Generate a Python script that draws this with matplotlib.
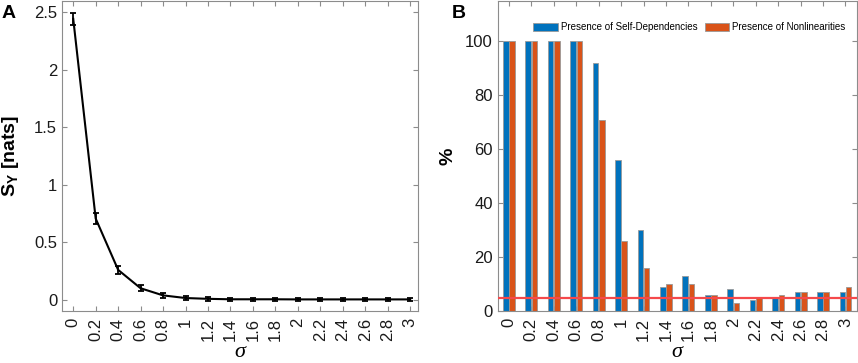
import matplotlib
matplotlib.use("Agg")
import matplotlib.pyplot as plt
import numpy as np
from matplotlib.ticker import FuncFormatter

plt.rcParams['font.family'] = ['Liberation Sans', 'DejaVu Sans']
plt.rcParams['mathtext.fontset'] = 'custom'
plt.rcParams['mathtext.rm'] = 'Liberation Sans'
plt.rcParams['mathtext.bf'] = 'Liberation Sans:bold'
plt.rcParams['mathtext.it'] = 'Liberation Serif:italic'

# ---- data ----
sigma = [0.0, 0.2, 0.4, 0.6, 0.8, 1.0, 1.2, 1.4, 1.6, 1.8, 2.0, 2.2, 2.4, 2.6, 2.8, 3.0]
sigma_labels = ['0', '0.2', '0.4', '0.6', '0.8', '1', '1.2', '1.4', '1.6', '1.8', '2',
                '2.2', '2.4', '2.6', '2.8', '3']
entropy = [2.445, 0.705, 0.258, 0.098, 0.036, 0.013, 0.006, 0.002, 0.002, 0.002,
           0.001, 0.001, 0.001, 0.001, 0.001, 0.001]
entropy_err = [0.05, 0.045, 0.035, 0.028, 0.022, 0.018, 0.016, 0.015, 0.015, 0.015,
               0.014, 0.014, 0.014, 0.014, 0.014, 0.015]
self_dep = [100, 100, 100, 100, 92, 56, 30, 9, 13, 6, 8, 4, 5, 7, 7, 7]
nonlin = [100, 100, 100, 100, 71, 26, 16, 10, 10, 6, 3, 5, 6, 7, 7, 9]
threshold = 5
legend_labels = ['Presence of Self-Dependencies', 'Presence of Nonlinearities']

blue = '#0072BD'
orange = '#D95319'
spine_col = '0.55'

fig = plt.figure(figsize=(8.58, 3.63), dpi=100)
axA = fig.add_axes([62/858, 52/363, 356/858, 310/363])
axB = fig.add_axes([497.7/858, 52/363, 359/858, 310/363])

def style(ax):
    for s in ax.spines.values():
        s.set_color(spine_col)
        s.set_linewidth(0.8)
    ax.tick_params(direction='in', length=3.5, width=0.8, color=spine_col,
                   top=True, right=True, labelsize=12, labelcolor='#1a1a1a')
    ax.tick_params(axis='x', labelrotation=90, pad=5)

def sigma_label(ax):
    ax.set_xlabel('σ', fontsize=16, family='Liberation Serif', style='italic')
    ax.xaxis.label.set_va('bottom')
    ax.xaxis.set_label_coords(0.5, -0.163)

# ---- panel A ----
axA.errorbar(sigma, entropy, yerr=entropy_err, color='black', lw=1.5,
             elinewidth=1.3, capsize=2.5, capthick=1.3)
axA.set_xlim(-0.1, 3.07)
axA.set_ylim(-0.1, 2.6)
axA.set_xticks(sigma)
axA.set_xticklabels(sigma_labels)
axA.set_yticks([0, 0.5, 1, 1.5, 2, 2.5])
axA.yaxis.set_major_formatter(FuncFormatter(lambda v, p: '%g' % v))
style(axA)
axA.set_ylabel(r'$\mathbf{S_Y}$ [nats]', fontsize=14, fontweight='bold')
axA.yaxis.set_label_coords(-0.115, 0.5)
sigma_label(axA)

# ---- panel B ----
x = np.array(sigma)
w = 0.05
off = 0.028
axB.bar(x - off, self_dep, width=w, color=blue, edgecolor='0.6', linewidth=0.6,
        label=legend_labels[0], zorder=2)
axB.bar(x + off, nonlin, width=w, color=orange, edgecolor='0.6', linewidth=0.6,
        label=legend_labels[1], zorder=2)
axB.axhline(threshold, color='#F5494B', lw=1.6, zorder=3)
axB.set_xlim(-0.1, 3.1)
axB.set_ylim(0, 115)
axB.set_xticks(sigma)
axB.set_xticklabels(sigma_labels)
axB.set_yticks([0, 20, 40, 60, 80, 100])
style(axB)
axB.set_ylabel('%', fontsize=14, fontweight='bold')
axB.yaxis.set_label_coords(-0.115, 0.5)
sigma_label(axB)
axB.legend(loc='upper right', ncol=2, frameon=False, fontsize=7,
           handlelength=2.5, handleheight=0.85, handletextpad=0.3,
           columnspacing=0.8, bbox_to_anchor=(0.985, 0.95), borderaxespad=0.2)

fig.text(2/858, 1 - 5/363, 'A', fontsize=14, fontweight='bold', va='top', ha='left')
fig.text(452/858, 1 - 5/363, 'B', fontsize=14, fontweight='bold', va='top', ha='left')

fig.savefig('out.png', dpi=100)
